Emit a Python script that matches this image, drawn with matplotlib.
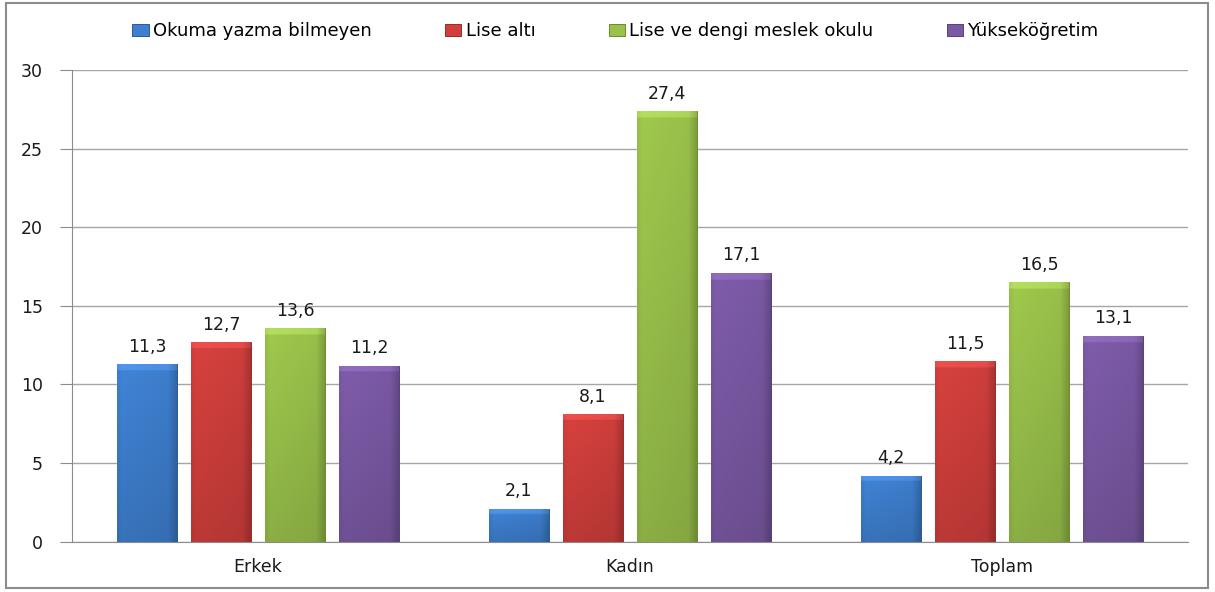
import matplotlib.pyplot as plt
from matplotlib.patches import Rectangle
from matplotlib.colors import to_rgb
import numpy as np

plt.rcParams['font.family'] = ['DejaVu Sans']

# Data
categories = ['Erkek', 'Kadın', 'Toplam']
series_names = ['Okuma yazma bilmeyen', 'Lise altı', 'Lise ve dengi meslek okulu', 'Yükseköğretim']
okuma_yazma = [11.3, 2.1, 4.2]
lise_alti = [12.7, 8.1, 11.5]
lise_dengi = [13.6, 27.4, 16.5]
yuksekogretim = [11.2, 17.1, 13.1]
values = [okuma_yazma, lise_alti, lise_dengi, yuksekogretim]
y_ticks = [0, 5, 10, 15, 20, 25, 30]

colors = ['#3E7FCF', '#D03F3C', '#9AC24B', '#7B59A5']
edge = ['#2B5A94', '#9A2C2A', '#6B8C30', '#56407A']


def bevel_image(color, height, top=0.35):
    # shaded fill: light top strip, darker right edge and bottom
    base = np.array(to_rgb(color))
    nx, ny = 60, 200
    xs = np.linspace(0, 1, nx)
    ys = np.linspace(height, 0, ny)
    hx = 1.04 - 0.06 * xs - 0.16 * np.clip((xs - 0.86) / 0.14, 0, 1)
    hx -= 0.06 * np.clip((0.08 - xs) / 0.08, 0, 1)
    vy = 0.87 + 0.13 * (ys / max(height, 1e-6))
    shade = vy[:, None] * hx[None, :]
    img = np.clip(base[None, None, :] * shade[:, :, None], 0, 1)
    strip = ys > height - top
    img[strip] = np.clip(img[strip] * 1.06 + 0.04, 0, 1)
    return img


fig = plt.figure(figsize=(12.15, 5.92), dpi=100)
fig.patches.append(Rectangle((0.005, 0.006), 0.989, 0.989, transform=fig.transFigure,
                             fill=False, edgecolor='#8C8C8C', linewidth=1.5))
ax = fig.add_axes([0.0593, 0.0850, 0.9185, 0.7968])

bar_w = 0.161
step = 0.199
x = np.arange(len(categories))
offsets = (np.arange(4) - 1.5) * step

for i, vals in enumerate(values):
    bars = ax.bar(x + offsets[i], vals, width=bar_w, color=colors[i],
                  edgecolor=edge[i], linewidth=0.7, label=series_names[i], zorder=3)
    for b, v in zip(bars, vals):
        x0 = b.get_x()
        im = ax.imshow(bevel_image(colors[i], v), aspect='auto', interpolation='bilinear',
                       extent=(x0, x0 + bar_w, 0, v), zorder=3.5)
        im.set_clip_path(b)
        ax.annotate(f'{v:.1f}'.replace('.', ','), (b.get_x() + bar_w / 2, v),
                    xytext=(0, 6), textcoords='offset points',
                    ha='center', va='bottom', fontsize=12.5, color='#1A1A1A', zorder=5)

ax.set_xlim(-0.5, 2.5)
ax.set_ylim(0, 30)
ax.set_yticks(y_ticks)
ax.set_xticks(x)
ax.set_xticklabels(categories)
ax.yaxis.grid(True, color='#A6A6A6', linewidth=1)
ax.set_axisbelow(True)
for s in ['top', 'right']:
    ax.spines[s].set_visible(False)
ax.spines['left'].set_color('#8C8C8C')
ax.spines['bottom'].set_color('#8C8C8C')
ax.tick_params(axis='y', length=9, color='#8C8C8C', labelsize=12.5, pad=12, labelcolor='#1A1A1A')
ax.tick_params(axis='x', length=0, labelsize=12.5, pad=12, labelcolor='#1A1A1A')

handles, labels = ax.get_legend_handles_labels()
fig.legend(handles, labels, loc='center', bbox_to_anchor=(0.5066, 0.947), ncol=4,
           frameon=False, fontsize=13, handlelength=0.9, handleheight=0.65,
           handletextpad=0.25, columnspacing=4.05)

fig.savefig('out.png', dpi=100)
